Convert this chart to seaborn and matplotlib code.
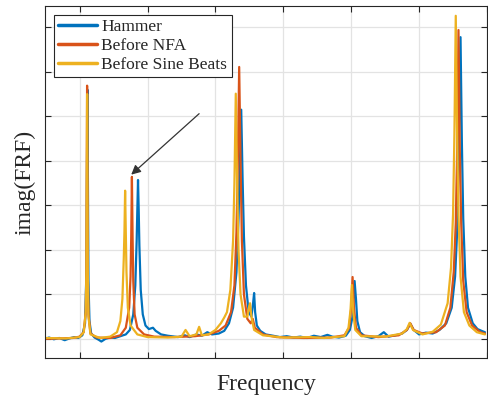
import numpy as np
import pandas as pd
import matplotlib
matplotlib.use("Agg")
import matplotlib.pyplot as plt
import seaborn as sns

# ---- data (arbitrary units) ----
hammer_x = [0.49, 0.55, 0.62, 0.70, 0.78, 0.85, 0.92, 0.98, 1.04, 1.08, 1.10, 1.115, 1.13, 1.145, 1.17,
            1.22, 1.28, 1.32, 1.38, 1.45, 1.52, 1.60, 1.68, 1.74, 1.79, 1.82, 1.84, 1.85, 1.86, 1.87,
            1.88, 1.90, 1.93, 1.97, 2.02, 2.08, 2.12, 2.20, 2.30, 2.45, 2.55, 2.62, 2.72, 2.80, 2.88,
            2.95, 3.05, 3.13, 3.20, 3.26, 3.31, 3.34, 3.36, 3.38, 3.40, 3.42, 3.45, 3.49, 3.53, 3.555,
            3.57, 3.585, 3.61, 3.66, 3.74, 3.85, 3.95, 4.05, 4.15, 4.25, 4.35, 4.45, 4.55, 4.65, 4.72,
            4.82, 4.92, 4.98, 5.02, 5.05, 5.07, 5.09, 5.13, 5.20, 5.30, 5.40, 5.48, 5.55, 5.65, 5.75,
            5.82, 5.87, 5.92, 6.00, 6.10, 6.20, 6.30, 6.40, 6.48, 6.53, 6.56, 6.585, 6.61, 6.63, 6.65,
            6.68, 6.72, 6.79, 6.86, 6.92, 6.97]
hammer_y = [0.00, 0.03, -0.01, 0.02, -0.03, 0.01, 0.04, 0.02, 0.08, 0.35, 1.5, 5.6, 1.3, 0.4, 0.12,
            0.03, -0.02, -0.06, 0.00, 0.03, 0.02, 0.06, 0.10, 0.20, 0.55, 1.2, 2.2, 2.9, 3.57, 2.9,
            2.1, 1.1, 0.55, 0.30, 0.22, 0.25, 0.18, 0.10, 0.07, 0.04, 0.08, 0.04, 0.10, 0.07, 0.15,
            0.10, 0.12, 0.18, 0.35, 0.70, 1.5, 2.7, 3.9, 5.15, 3.6, 2.3, 1.2, 0.60, 0.50, 0.80,
            1.03, 0.60, 0.30, 0.18, 0.10, 0.07, 0.04, 0.06, 0.03, 0.05, 0.02, 0.07, 0.04, 0.09, 0.05,
            0.03, 0.07, 0.20, 0.50, 1.30, 0.90, 0.40, 0.15, 0.06, 0.02, 0.06, 0.15, 0.05, 0.08, 0.12,
            0.20, 0.34, 0.20, 0.10, 0.14, 0.12, 0.20, 0.35, 0.70, 1.4, 2.4, 4.2, 6.78, 4.4, 2.7,
            1.4, 0.70, 0.35, 0.22, 0.18, 0.15]

nfa_x = [0.49, 0.70, 0.90, 1.00, 1.06, 1.09, 1.10, 1.11, 1.12, 1.13, 1.16, 1.25, 1.45, 1.60, 1.68,
         1.73, 1.75, 1.76, 1.77, 1.78, 1.79, 1.81, 1.85, 1.95, 2.10, 2.40, 2.70, 2.90, 3.05, 3.15,
         3.23, 3.28, 3.31, 3.33, 3.35, 3.37, 3.39, 3.42, 3.47, 3.52, 3.55, 3.58, 3.70, 3.90, 4.30,
         4.70, 4.90, 4.97, 5.00, 5.02, 5.04, 5.07, 5.15, 5.40, 5.70, 5.82, 5.87, 5.92, 6.05, 6.25,
         6.38, 6.46, 6.51, 6.54, 6.56, 6.58, 6.60, 6.62, 6.65, 6.70, 6.78, 6.90, 6.97]
nfa_y = [0.00, 0.01, 0.02, 0.05, 0.15, 0.60, 1.6, 5.69, 1.6, 0.55, 0.12, 0.03, 0.02, 0.08, 0.25,
         0.70, 1.4, 2.3, 3.64, 2.3, 1.3, 0.55, 0.25, 0.10, 0.05, 0.04, 0.06, 0.10, 0.18, 0.30,
         0.60, 1.2, 2.4, 4.0, 6.11, 4.0, 2.2, 1.0, 0.45, 0.35, 0.45, 0.25, 0.10, 0.04, 0.02,
         0.03, 0.08, 0.25, 0.70, 1.39, 0.70, 0.25, 0.08, 0.04, 0.08, 0.20, 0.35, 0.20, 0.12, 0.15,
         0.30, 0.70, 1.5, 2.6, 4.2, 6.94, 4.2, 2.6, 1.3, 0.60, 0.30, 0.15, 0.12]

sine_x = [0.49, 0.80, 1.00, 1.06, 1.09, 1.10, 1.11, 1.12, 1.13, 1.16, 1.30, 1.45, 1.55, 1.60, 1.63,
          1.65, 1.66, 1.67, 1.68, 1.69, 1.71, 1.75, 1.85, 2.00, 2.30, 2.50, 2.56, 2.62, 2.72, 2.76,
          2.80, 2.90, 3.00, 3.08, 3.13, 3.17, 3.22, 3.26, 3.28, 3.30, 3.32, 3.34, 3.37, 3.42, 3.47,
          3.50, 3.51, 3.53, 3.57, 3.70, 4.00, 4.40, 4.60, 4.90, 4.96, 4.99, 5.01, 5.03, 5.06, 5.15,
          5.50, 5.75, 5.82, 5.86, 5.91, 6.05, 6.20, 6.32, 6.42, 6.47, 6.50, 6.52, 6.54, 6.56, 6.58,
          6.61, 6.66, 6.74, 6.85, 6.97]
sine_y = [0.02, 0.01, 0.04, 0.15, 0.60, 1.6, 5.5, 1.5, 0.50, 0.10, 0.02, 0.05, 0.15, 0.40, 0.90,
          1.8, 2.4, 3.33, 2.4, 1.5, 0.70, 0.30, 0.10, 0.04, 0.03, 0.05, 0.20, 0.06, 0.10, 0.27,
          0.08, 0.10, 0.20, 0.35, 0.48, 0.60, 1.1, 2.2, 3.5, 5.51, 3.5, 2.0, 1.0, 0.50, 0.50,
          0.75, 0.80, 0.50, 0.20, 0.08, 0.03, 0.04, 0.02, 0.06, 0.25, 0.65, 1.21, 0.60, 0.20, 0.06,
          0.05, 0.12, 0.22, 0.36, 0.20, 0.10, 0.16, 0.32, 0.80, 1.6, 2.8, 4.6, 7.26, 4.6, 2.8,
          1.4, 0.60, 0.30, 0.15, 0.10]

series_names = ["Hammer", "Before NFA", "Before Sine Beats"]
series_colors = ["#0072BD", "#D95319", "#EDB120"]

x_ticks = [1, 2, 3, 4, 5, 6, 7]
y_ticks = [0, 1, 2, 3, 4, 5, 6, 7]

# ---- plotting ----
sns.set_theme(style="white")
plt.rcParams["font.family"] = ["Liberation Serif", "DejaVu Serif"]

fig = plt.figure(figsize=(4.88, 4.00), dpi=100)
ax = fig.add_axes([45 / 488, (400 - 358) / 400, (487 - 45) / 488, (358 - 6) / 400])

data = [(hammer_x, hammer_y), (nfa_x, nfa_y), (sine_x, sine_y)]
for (xs, ys), name, col in zip(data, series_names, series_colors):
    df = pd.DataFrame({"f": xs, "v": ys})
    sns.lineplot(data=df, x="f", y="v", ax=ax, color=col, lw=1.6, label=name,
                 sort=False, estimator=None)

ax.set_xlim(0.49, 6.94)
ax.set_ylim(-0.43, 7.48)
ax.set_xticks(x_ticks)
ax.set_yticks(y_ticks)
ax.set_xticklabels([])
ax.set_yticklabels([])
ax.grid(True, color="#e3e3e3", lw=0.9)
ax.set_axisbelow(True)
ax.tick_params(direction="in", length=4, width=0.8, color="#262626",
               top=True, right=True, bottom=True, left=True)
for s in ax.spines.values():
    s.set_color("#262626")
    s.set_linewidth(0.8)

ax.set_xlabel("Frequency", fontsize=17, color="#262626", labelpad=8)
ax.set_ylabel("imag(FRF)", fontsize=17, color="#262626", labelpad=3)

leg = ax.legend(loc="upper left", fontsize=12.5, frameon=True, fancybox=False,
                edgecolor="#262626", framealpha=1, borderaxespad=0.5,
                handlelength=2.25, handletextpad=0.25, labelspacing=0.15,
                borderpad=0.25)
leg.get_frame().set_linewidth(0.8)
for line in leg.get_lines():
    line.set_linewidth(2.5)

ax.annotate("", xy=(1.76, 3.69), xytext=(2.76, 5.06),
            arrowprops=dict(arrowstyle="-|>", color="#333333", lw=0.9,
                            mutation_scale=14, shrinkA=0, shrinkB=0))

fig.savefig("out.png", dpi=100)
